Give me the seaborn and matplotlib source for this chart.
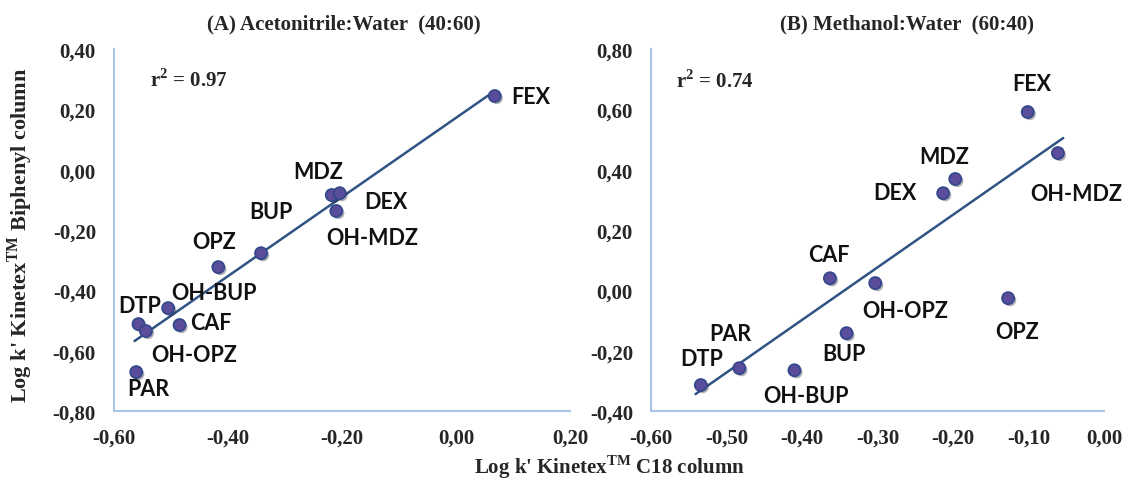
import numpy as np
import pandas as pd
import matplotlib
matplotlib.use("Agg")
import matplotlib.pyplot as plt
import matplotlib.patheffects as pe
from matplotlib.ticker import FuncFormatter, MultipleLocator
import seaborn as sns

# ---- data ----
compounds_a = ["FEX", "MDZ", "DEX", "OH-MDZ", "BUP", "OPZ", "OH-BUP", "CAF", "DTP", "OH-OPZ", "PAR"]
c18_a = [0.068, -0.218, -0.204, -0.210, -0.342, -0.417, -0.505, -0.485, -0.557, -0.544, -0.561]
biph_a = [0.244, -0.084, -0.078, -0.137, -0.277, -0.323, -0.459, -0.515, -0.512, -0.535, -0.671]

compounds_b = ["FEX", "OH-MDZ", "MDZ", "DEX", "CAF", "OH-OPZ", "OPZ", "BUP", "OH-BUP", "PAR", "DTP"]
c18_b = [-0.101, -0.061, -0.197, -0.213, -0.363, -0.303, -0.127, -0.341, -0.410, -0.483, -0.534]
biph_b = [0.591, 0.455, 0.369, 0.322, 0.040, 0.024, -0.026, -0.142, -0.265, -0.258, -0.314]

# linear trendlines as drawn in the chart (end points)
trend_a_x = [-0.564, 0.068]
trend_a_y = [-0.568, 0.261]
trend_b_x = [-0.541, -0.054]
trend_b_y = [-0.344, 0.505]

r2_a = "0.97"
r2_b = "0.74"
title_a = "(A) Acetonitrile:Water  (40:60)"
title_b = "(B) Methanol:Water  (60:40)"

# label offsets (pixels) - styling only
off_a = {"FEX": (16, 0, "left"), "MDZ": (-14, 24, "center"), "DEX": (46, -8, "center"),
         "OH-MDZ": (36, -27, "center"), "BUP": (10, 42, "center"), "OPZ": (-4, 26, "center"),
         "OH-BUP": (46, 16, "center"), "CAF": (31, 3, "center"), "DTP": (1, 19, "center"),
         "OH-OPZ": (48, -23, "center"), "PAR": (12, -16, "center")}
off_b = {"FEX": (4, 29, "center"), "OH-MDZ": (18, -40, "center"), "MDZ": (-11, 23, "center"),
         "DEX": (-48, 1, "center"), "CAF": (-1, 24, "center"), "OH-OPZ": (30, -27, "center"),
         "OPZ": (9, -33, "center"), "BUP": (-3, -20, "center"), "OH-BUP": (12, -25, "center"),
         "PAR": (-9, 35, "center"), "DTP": (1, 27, "center")}

sns.set_style("white")
plt.rcParams["font.family"] = ["Liberation Serif", "DejaVu Serif"]
plt.rcParams["mathtext.fontset"] = "custom"
plt.rcParams["mathtext.rm"] = "Liberation Serif"
plt.rcParams["mathtext.bf"] = "Liberation Serif:bold"

fig = plt.figure(figsize=(11.27, 4.81), dpi=100)
W, H = 1127, 481
axA = fig.add_axes([114 / W, (H - 412) / H, 456 / W, 362 / H])
axB = fig.add_axes([651 / W, (H - 412) / H, 453 / W, 362 / H])

spine_col = "#A9C6E8"
line_col = "#2F5383"
pt_face = "#5B4D9C"
pt_edge = "#34488A"
fmt = FuncFormatter(lambda v, p: ("%.2f" % v).replace(".", ",").replace("-0,00", "0,00"))


def panel(ax, names, xs, ys, tx_, ty_, offs, title, r2, xlim, ylim, xstep, ystep, r2pos, tx):
    df = pd.DataFrame({"x": xs, "y": ys, "name": names})
    tr = pd.DataFrame({"x": tx_, "y": ty_})
    sns.lineplot(data=tr, x="x", y="y", ax=ax, color=line_col, lw=1.8, sort=False)
    sns.scatterplot(data=df, x="x", y="y", ax=ax, s=75, color=pt_face,
                    edgecolor=pt_edge, linewidth=1.3, zorder=5)
    for coll in ax.collections:
        coll.set_path_effects([pe.SimplePatchShadow(offset=(1.5, -1.5), alpha=0.35), pe.Normal()])
    for n, x, y in zip(names, xs, ys):
        dx, dy, ha = offs[n]
        ax.annotate(n, (x, y), xytext=(dx, dy), textcoords="offset pixels",
                    ha=ha, va="center", fontsize=15.5, fontweight="bold",
                    family=["Lato", "DejaVu Sans"], color="#111111", zorder=6)
    ax.set_xlim(*xlim)
    ax.set_ylim(*ylim)
    ax.xaxis.set_major_locator(MultipleLocator(xstep))
    ax.yaxis.set_major_locator(MultipleLocator(ystep))
    ax.xaxis.set_major_formatter(fmt)
    ax.yaxis.set_major_formatter(fmt)
    for s in ["top", "right"]:
        ax.spines[s].set_visible(False)
    for s in ["left", "bottom"]:
        ax.spines[s].set_color(spine_col)
        ax.spines[s].set_linewidth(1.5)
    ax.tick_params(axis="both", length=0, labelsize=15)
    ax.tick_params(axis="x", pad=12)
    ax.tick_params(axis="y", pad=13)
    for lab in ax.get_xticklabels() + ax.get_yticklabels():
        lab.set_fontweight("bold")
    ax.set_xlabel("")
    ax.set_ylabel("")
    ax.text(tx, 1 + 26 / 362, title, transform=ax.transAxes, fontsize=15,
            fontweight="bold", ha="center", va="center")
    ax.text(r2pos[0], r2pos[1], r"r$^\mathbf{2}$ = " + r2, transform=ax.transAxes,
            fontsize=15, fontweight="bold", va="center", ha="left")


panel(axA, compounds_a, c18_a, biph_a, trend_a_x, trend_a_y, off_a, title_a, r2_a,
      (-0.6, 0.2), (-0.8, 0.4), 0.2, 0.2, (0.079, 0.917), 0.505)
panel(axB, compounds_b, c18_b, biph_b, trend_b_x, trend_b_y, off_b, title_b, r2_b,
      (-0.6, 0.0), (-0.4, 0.8), 0.1, 0.2, (0.055, 0.912), 0.565)

fig.text(20 / W, 1 - 235 / H, "Log k' Kinetex$^{\\mathbf{TM}}$ Biphenyl column", rotation=90,
         ha="center", va="center", fontsize=16, fontweight="bold")
fig.text(609 / W, 1 - 474 / H, "Log k' Kinetex$^{\\mathbf{TM}}$ C18 column",
         ha="center", va="baseline", fontsize=15, fontweight="bold")

fig.savefig("out.png", dpi=100, facecolor="white")
